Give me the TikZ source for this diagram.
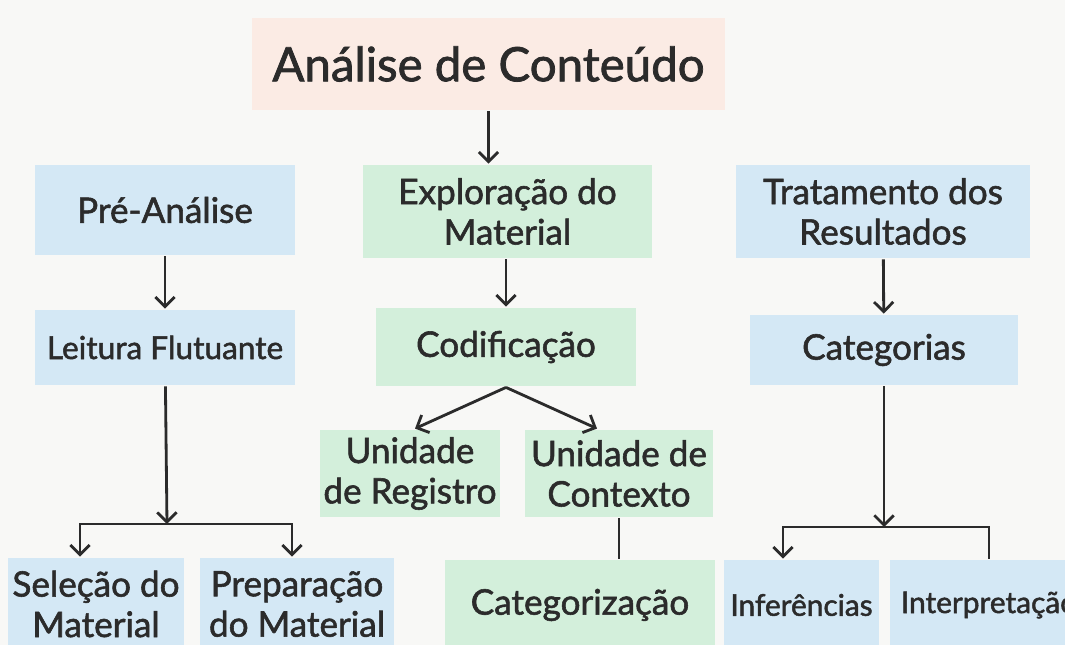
\documentclass[tikz,border=0pt]{standalone}
\usepackage{fontspec}
\setmainfont{Lato}[FakeBold=1.6]
\usetikzlibrary{arrows.meta,positioning,calc}

\definecolor{bluebox}{HTML}{D4E8F5}
\definecolor{greenbox}{HTML}{D3EFDB}
\definecolor{pinkbox}{HTML}{FBEBE4}
\definecolor{bgpage}{HTML}{F8F8F6}
\definecolor{ink}{HTML}{2B2B2B}

\begin{document}
\begin{tikzpicture}[x=0.02cm,y=-0.02cm,>={Straight Barb[length=5.5pt,width=11pt]},
 line width=1.6pt,draw=ink,
 box/.style={inner sep=2pt,align=center,text=ink,font=\fontsize{20}{23}\selectfont},
 bbox/.style={box,fill=bluebox},
 gbox/.style={box,fill=greenbox}]
\fill[bgpage] (0,0) rectangle (1065,645);
\useasboundingbox (0,0) rectangle (1065,645);
\node[box,fill=pinkbox,minimum width=9.46cm,minimum height=1.84cm,font=\fontsize{27}{32}\selectfont] (title) at (488.5,64) {Análise de Conteúdo};
% top row
\node[bbox,minimum width=5.2cm,minimum height=1.8cm] (pre) at (165,210) {Pré-Análise};
\node[gbox,minimum width=5.78cm,minimum height=1.86cm] (expl) at (507.5,211.5) {Exploração do\\Material};
\node[bbox,minimum width=5.88cm,minimum height=1.86cm] (trat) at (883,211.5) {Tratamento dos\\Resultados};
% second row
\node[bbox,minimum width=5.2cm,minimum height=1.5cm,font=\fontsize{18}{21}\selectfont] (leit) at (165,347.5) {Leitura Flutuante};
\node[gbox,minimum width=5.2cm,minimum height=1.56cm] (codif) at (506,347) {Codificação};
\node[bbox,minimum width=5.36cm,minimum height=1.4cm] (categ) at (884,350) {Categorias};
% units
\node[gbox,minimum width=3.6cm,minimum height=1.74cm] (ureg) at (410,473.5) {Unidade\\de Registro};
\node[gbox,minimum width=3.76cm,minimum height=1.74cm] (uctx) at (619,473.5) {Unidade de\\Contexto};
% bottom row
\node[bbox,minimum width=3.52cm,minimum height=1.84cm] (sel) at (96,604) {Seleção do\\Material};
\node[bbox,minimum width=3.88cm,minimum height=1.84cm] (prep) at (297,604) {Preparação\\do Material};
\node[gbox,minimum width=5.4cm,minimum height=1.8cm] (catz) at (580,605) {Categorização};
\node[bbox,minimum width=3.1cm,minimum height=1.8cm,font=\fontsize{17}{20}\selectfont] (infer) at (801.5,605) {Inferências};
\node[bbox,minimum width=3.96cm,minimum height=1.8cm,font=\fontsize{17}{20}\selectfont] (interp) at (989,605) {Interpretação};
\coordinate (lbar) at (167,524);
\coordinate (rbar) at (884,527);
% connectors
\draw[->] (title.south) -- (title.south |- expl.north);
\draw[->] (pre) -- (leit);
\draw[->] (codif.north |- expl.south) -- (codif.north);
\draw[->] (trat) -- (categ);
\draw[->] (leit) -- (lbar);
\draw[->] (lbar) -| ([xshift=-0.32cm]sel.north);
\draw[->] (lbar) -| ([xshift=-0.1cm]prep.north);
\draw[->] (codif.south) -- ([xshift=0.1cm]ureg.north);
\draw[->] (codif.south) -- ([xshift=-0.44cm]uctx.north);
\draw (uctx) -- (uctx |- catz.north);
\draw[->] (categ) -- (rbar);
\draw[->] (rbar) -| ([xshift=-0.37cm]infer.north);
\draw (rbar) -| (interp.north);
\end{tikzpicture}
\end{document}
